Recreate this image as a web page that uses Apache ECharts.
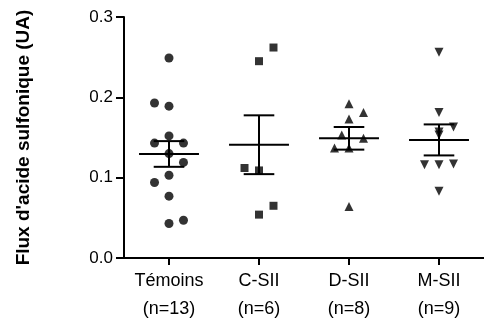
<!DOCTYPE html>
<html>
<head>
<meta charset="utf-8">
<script src="https://cdn.jsdelivr.net/npm/echarts@6/dist/echarts.min.js"></script>
<style>
  html, body { margin: 0; padding: 0; background: #fff; }
  #chart { width: 484px; height: 327px; }
</style>
</head>
<body>
<div id="chart"></div>
<script>
const groups = ['Témoins\n(n=13)', 'C-SII\n(n=6)', 'D-SII\n(n=8)', 'M-SII\n(n=9)'];

// individual values
const temoins = [0.249, 0.193, 0.189, 0.152, 0.143, 0.143, 0.130, 0.119, 0.103, 0.094, 0.077, 0.043, 0.047];
const csii = [0.262, 0.245, 0.112, 0.109, 0.054, 0.065];
const dsii = [0.192, 0.181, 0.173, 0.153, 0.149, 0.137, 0.137, 0.064];
const msii = [0.256, 0.181, 0.163, 0.157, 0.153, 0.116, 0.116, 0.117, 0.083];

// column-scatter slot of each point (-1 left, 0 centre, 1 right)
const temoinsSlot = [0, -1, 0, 0, -1, 1, 0, 1, 0, -1, 0, 0, 1];
const csiiSlot = [1, 0, -1, 0, 0, 1];
const dsiiSlot = [0, 1, 0, -0.5, 1, -1, 0, 0];
const msiiSlot = [0, 0, 1, 0, 0, -1, 0, 1, 0];

// mean and SEM per group
const means = [0.1295, 0.141, 0.149, 0.147];
const sems = [0.016, 0.0366, 0.0141, 0.0193];

const yTicks = [0, 0.1, 0.2, 0.3];

const font = 'Arial, "Liberation Sans", Helvetica, sans-serif';
const slotWidth = 0.161;

function points(values, slots, idx) {
    var out = [];
    for (var i = 0; i < values.length; i++) {
        out.push([idx + 0.5 + slots[i] * slotWidth, values[i]]);
    }
    return out;
}

function scatter(values, slots, idx, symbol, size, rotate) {
    return {
        type: 'scatter',
        xAxisIndex: 1,
        data: points(values, slots, idx),
        symbol: symbol,
        symbolSize: size,
        symbolRotate: rotate || 0,
        itemStyle: { color: '#000' },
        silent: true,
        z: 3
    };
}

var errData = [];
for (var i = 0; i < groups.length; i++) {
    errData.push([i + 0.5, means[i], sems[i]]);
}

var chart = echarts.init(document.getElementById('chart'), null, { renderer: 'canvas' });

var option = {
    animation: false,
    backgroundColor: '#fff',
    textStyle: { fontFamily: font },
    grid: { left: 124, right: 0, top: 17, bottom: 69 },
    xAxis: [{
        type: 'category',
        data: groups,
        boundaryGap: true,
        axisLine: { show: true, lineStyle: { color: '#000', width: 2 } },
        axisTick: { show: true, alignWithLabel: true, length: 7, lineStyle: { color: '#000', width: 2 } },
        axisLabel: { color: '#000', fontSize: 18, lineHeight: 28, margin: 9, fontFamily: font },
        splitLine: { show: false }
    }, {
        type: 'value',
        min: 0,
        max: 4,
        show: false
    }],
    yAxis: {
        type: 'value',
        min: 0,
        max: 0.3,
        interval: 0.1,
        name: "Flux d'acide sulfonique (UA)",
        nameLocation: 'middle',
        nameGap: 91,
        nameTextStyle: { color: '#000', fontSize: 19, fontWeight: 'bold', fontFamily: font },
        axisLine: { show: true, lineStyle: { color: '#000', width: 2 } },
        axisTick: { show: true, length: 8, lineStyle: { color: '#000', width: 2 } },
        axisLabel: {
            color: '#000', fontSize: 17, margin: 11, fontFamily: font,
            formatter: function (v) { return v.toFixed(1); },
            customValues: yTicks
        },
        splitLine: { show: false }
    },
    series: [
        scatter(temoins, temoinsSlot, 0, 'circle', 9),
        scatter(csii, csiiSlot, 1, 'rect', 8),
        scatter(dsii, dsiiSlot, 2, 'triangle', 9),
        scatter(msii, msiiSlot, 3, 'triangle', 9, 180),
        {
            type: 'custom',
            xAxisIndex: 1,
            data: errData,
            silent: true,
            z: 4,
            renderItem: function (params, api) {
                var x = api.value(0), m = api.value(1), s = api.value(2);
                var style = { stroke: '#000', lineWidth: 2 };
                function seg(x1, y1, x2, y2) {
                    var a = api.coord([x1, y1]), b = api.coord([x2, y2]);
                    return { type: 'line', shape: { x1: a[0], y1: a[1], x2: b[0], y2: b[1] }, style: style };
                }
                return {
                    type: 'group',
                    children: [
                        seg(x - 0.333, m, x + 0.333, m),
                        seg(x, m - s, x, m + s),
                        seg(x - 0.17, m + s, x + 0.17, m + s),
                        seg(x - 0.17, m - s, x + 0.17, m - s)
                    ]
                };
            }
        }
    ]
};

chart.setOption(option);
</script>
</body>
</html>
